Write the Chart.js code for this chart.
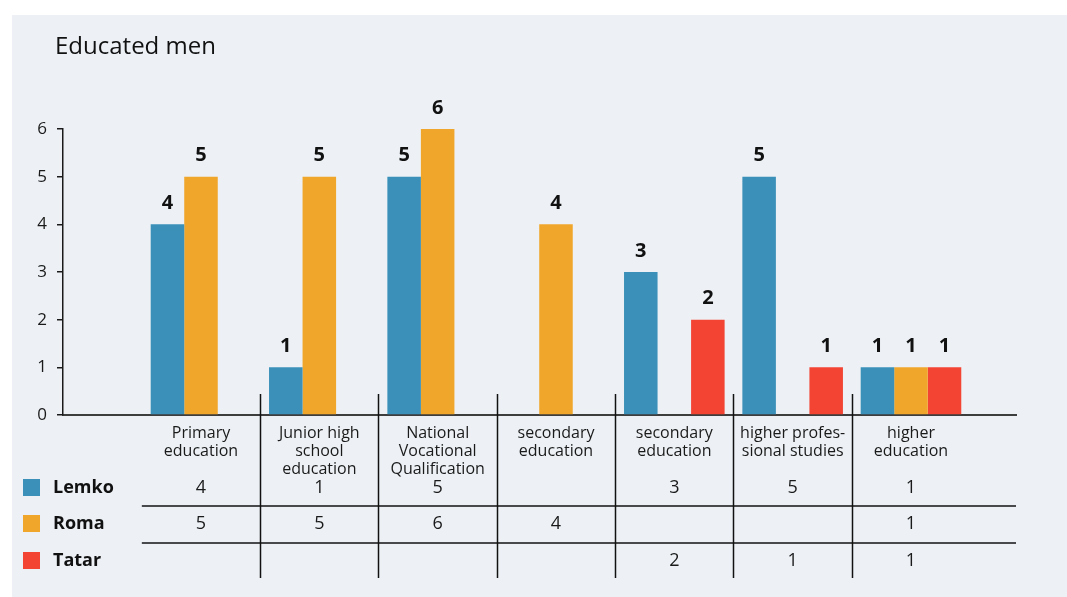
<!DOCTYPE html>
<html>
<head>
<meta charset="utf-8">
<title>Educated men</title>
<script src="https://cdn.jsdelivr.net/npm/chart.js@4/dist/chart.umd.min.js"></script>
<style>
  html, body { margin: 0; padding: 0; background: #ffffff; }
  #wrap { width: 1067px; height: 597px; position: relative; }
</style>
</head>
<body>
<div id="wrap"><canvas id="chart" width="1067" height="597"></canvas></div>
<script>
// Education levels (one column each) and the number of men per group
const categories = [
  ['Primary', 'education'],
  ['Junior high', 'school', 'education'],
  ['National', 'Vocational', 'Qualification'],
  ['secondary', 'education'],
  ['secondary', 'education'],
  ['higher profes-', 'sional studies'],
  ['higher', 'education']
];
const seriesNames = ['Lemko', 'Roma', 'Tatar'];
const lemko = [4, 1, 5, null, 3, 5, 1];
const roma  = [5, 5, 6, 4, null, null, 1];
const tatar = [null, null, null, null, 2, 1, 1];
const yTicks = [0, 1, 2, 3, 4, 5, 6];

const colors = ['#3a90b8', '#f0a62b', '#f24333'];
const FONT = '"Open Sans", "Noto Sans", sans-serif';
const seriesValues = [lemko, roma, tatar];

const toPoints = arr => arr.map((v, i) => ({ x: i, y: v }));

// Panel background, title, value labels and the data table under the axis
const decorations = {
  id: 'decorations',
  beforeDraw(chart) {
    const ctx = chart.ctx;
    ctx.save();
    ctx.fillStyle = '#edf1f5';
    ctx.fillRect(12, 15, chart.width - 12, chart.height - 15);
    ctx.fillStyle = '#111';
    ctx.font = '24px ' + FONT;
    ctx.textAlign = 'left';
    ctx.textBaseline = 'middle';
    ctx.fillText('Educated men', 55, 47);
    ctx.restore();
  },
  afterDatasetsDraw(chart) {
    const ctx = chart.ctx;
    ctx.save();
    ctx.fillStyle = '#111';
    ctx.font = 'bold 20px ' + FONT;
    ctx.textAlign = 'center';
    ctx.textBaseline = 'middle';
    chart.data.datasets.forEach((ds, di) => {
      const meta = chart.getDatasetMeta(di);
      meta.data.forEach((el, i) => {
        const v = ds.data[i].y;
        if (v === null || v === undefined) return;
        ctx.fillText(String(v), el.x, el.y - 21);
      });
    });
    ctx.restore();
  },
  afterDraw(chart) {
    const ctx = chart.ctx;
    const xs = chart.scales.x;
    const area = chart.chartArea;
    ctx.save();

    // column separators
    ctx.strokeStyle = '#111';
    ctx.lineWidth = 1.5;
    for (let i = 0; i < categories.length - 1; i++) {
      const px = Math.round(xs.getPixelForValue(i + 0.5)) + 0.5;
      ctx.beginPath();
      ctx.moveTo(px, 394);
      ctx.lineTo(px, 578);
      ctx.stroke();
    }

    // row rules
    const left = xs.getPixelForValue(-0.5);
    [506, 543].forEach(y => {
      ctx.beginPath();
      ctx.moveTo(left, y);
      ctx.lineTo(area.right, y);
      ctx.stroke();
    });

    // category names
    ctx.fillStyle = '#1a1a1a';
    ctx.textAlign = 'center';
    ctx.textBaseline = 'middle';
    ctx.font = '16px ' + FONT;
    categories.forEach((lines, i) => {
      const cx = xs.getPixelForValue(i);
      lines.forEach((t, li) => ctx.fillText(t, cx, 433 + li * 18));
    });

    // values per group
    const rowY = [488, 524, 561];
    ctx.font = '18px ' + FONT;
    seriesValues.forEach((arr, si) => {
      arr.forEach((v, i) => {
        if (v === null) return;
        ctx.fillText(String(v), xs.getPixelForValue(i), rowY[si]);
      });
    });

    // legend keys
    ctx.textAlign = 'left';
    ctx.font = 'bold 18px ' + FONT;
    seriesNames.forEach((name, si) => {
      ctx.fillStyle = colors[si];
      ctx.fillRect(23, rowY[si] - 9, 17, 17);
      ctx.fillStyle = '#111';
      ctx.fillText(name, 53, rowY[si]);
    });
    ctx.restore();
  }
};

new Chart(document.getElementById('chart'), {
  type: 'bar',
  data: {
    datasets: seriesNames.map((name, si) => ({
      label: name,
      data: toPoints(seriesValues[si]),
      backgroundColor: colors[si],
      borderWidth: 0,
      categoryPercentage: 0.85,
      barPercentage: 1.0
    }))
  },
  options: {
    responsive: false,
    animation: false,
    devicePixelRatio: 1,
    layout: { padding: { top: 129, bottom: 182, left: 0, right: 51 } },
    plugins: {
      legend: { display: false },
      tooltip: { enabled: false },
      title: { display: false }
    },
    scales: {
      x: {
        type: 'linear',
        offset: false,
        min: -1.1662,
        max: 6.8875,
        afterBuildTicks(scale) { scale.ticks = categories.map((c, i) => ({ value: i })); },
        ticks: { display: false },
        grid: { display: false, drawTicks: false },
        border: { display: true, color: '#3d3d3d', width: 2 },
        afterFit(scale) { scale.height = 0; }
      },
      y: {
        min: 0,
        max: 6,
        afterBuildTicks(scale) { scale.ticks = yTicks.map(v => ({ value: v })); },
        ticks: {
          color: '#1a1a1a',
          font: { family: FONT, size: 17 },
          padding: 10
        },
        grid: {
          display: true,
          drawOnChartArea: false,
          drawTicks: true,
          tickLength: 6,
          color: '#1a1a1a',
          lineWidth: 1.5
        },
        border: { display: true, color: '#1a1a1a', width: 1.5 },
        afterFit(scale) { scale.width = 63; }
      }
    }
  },
  plugins: [decorations]
});
</script>
</body>
</html>
